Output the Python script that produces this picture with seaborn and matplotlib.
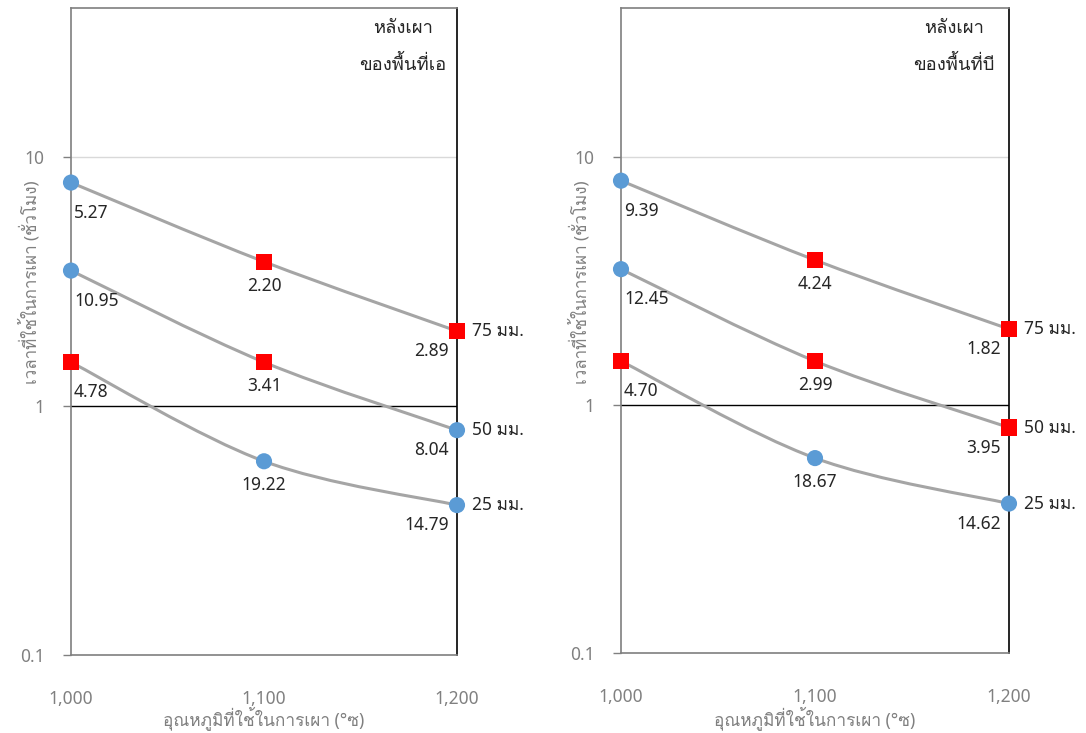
import numpy as np
import pandas as pd
import matplotlib
matplotlib.use("Agg")
import matplotlib.pyplot as plt
from matplotlib import font_manager, ft2font
from matplotlib.path import Path
from matplotlib.patches import PathPatch
import seaborn as sns

# ---- data -------------------------------------------------------------
temps = [1000, 1100, 1200]
temp_ticks = ["1,000", "1,100", "1,200"]
series_names = ["75 มม.", "50 มม.", "25 มม."]

# hours (plotted on log axis)
hours_a_75 = [7.9, 3.8, 2.0]
hours_a_50 = [3.5, 1.5, 0.8]
hours_a_25 = [1.5, 0.6, 0.4]
hours_b_75 = [8.0, 3.83, 2.02]
hours_b_50 = [3.52, 1.5, 0.81]
hours_b_25 = [1.5, 0.61, 0.4]

# values printed next to each point
labels_a_75 = ["5.27", "2.20", "2.89"]
labels_a_50 = ["10.95", "3.41", "8.04"]
labels_a_25 = ["4.78", "19.22", "14.79"]
labels_b_75 = ["9.39", "4.24", "1.82"]
labels_b_50 = ["12.45", "2.99", "3.95"]
labels_b_25 = ["4.70", "18.67", "14.62"]

# marker class per point: c = circle, s = square
kind_a_75 = ["c", "s", "s"]
kind_a_50 = ["c", "s", "c"]
kind_a_25 = ["s", "c", "c"]
kind_b_75 = ["c", "s", "s"]
kind_b_50 = ["c", "s", "s"]
kind_b_25 = ["s", "c", "c"]

titles = ["หลังเผา\nของพื้นที่เอ", "หลังเผา\nของพื้นที่บี"]
y_ticks = [0.1, 1, 10]
y_ticklabels = ["0.1", "1", "10"]
x_label = "อุณหภูมิที่ใช้ในการเผา (°ซ)"
y_label = "เวลาที่ใช้ในการเผา (ชั่วโมง)"

panels = [
    dict(hours=[hours_a_75, hours_a_50, hours_a_25],
         labels=[labels_a_75, labels_a_50, labels_a_25],
         kinds=[kind_a_75, kind_a_50, kind_a_25]),
    dict(hours=[hours_b_75, hours_b_50, hours_b_25],
         labels=[labels_b_75, labels_b_50, labels_b_25],
         kinds=[kind_b_75, kind_b_50, kind_b_25]),
]

# ---- style ------------------------------------------------------------
sns.set_theme(style="white")


def find_thai_family():
    for f in font_manager.fontManager.ttflist:
        try:
            cmap = ft2font.FT2Font(f.fname).get_charmap()
        except Exception:
            continue
        if 0x0E01 in cmap and 0x0E40 in cmap and 0x0E21 in cmap:
            return f.name
    return None


thai = find_thai_family()
families = ["Noto Sans"] + ([thai] if thai else []) + ["DejaVu Sans"]
plt.rcParams["font.family"] = families

BLUE = "#5B9BD5"
RED = "#FF0000"
LINE = "#A5A5A5"
TICK_GRAY = "#808080"
TEXT = "#262626"
FS = 12.5


def smooth_path(xs, ys):
    """Cubic Bezier through the points, built in (x, log10 y) space."""
    px = np.asarray(xs, float)
    py = np.log10(np.asarray(ys, float))
    n = len(px)
    verts = [(px[0], py[0])]
    codes = [Path.MOVETO]
    for i in range(n - 1):
        p_prev = (px[max(i - 1, 0)], py[max(i - 1, 0)])
        p0 = (px[i], py[i])
        p1 = (px[i + 1], py[i + 1])
        p_next = (px[min(i + 2, n - 1)], py[min(i + 2, n - 1)])
        c1 = (p0[0] + (p1[0] - p_prev[0]) / 6, p0[1] + (p1[1] - p_prev[1]) / 6)
        c2 = (p1[0] - (p_next[0] - p0[0]) / 6, p1[1] - (p_next[1] - p0[1]) / 6)
        verts += [c1, c2, p1]
        codes += [Path.CURVE4] * 3
    verts = [(vx, 10 ** vy) for vx, vy in verts]
    return Path(verts, codes)


W, H = 1086, 733
fig = plt.figure(figsize=(W / 100, H / 100), dpi=100)
fig.patch.set_facecolor("white")

boxes = [(71, 8, 457, 655), (621, 8, 1009, 653)]

for p, (l, t, r, b), title in zip(panels, boxes, titles):
    ax = fig.add_axes([l / W, 1 - b / H, (r - l) / W, (b - t) / H])
    ax.set_yscale("log")
    ax.set_xlim(1000, 1200)
    ax.set_ylim(0.1, 39.7)

    # reference lines
    ax.axhline(10, color="#D9D9D9", lw=1, zorder=1)
    ax.axhline(1, color="#000000", lw=1, zorder=1)

    rows = []
    for name, hrs, labs, kinds in zip(series_names, p["hours"], p["labels"], p["kinds"]):
        ax.add_patch(PathPatch(smooth_path(temps, hrs), facecolor="none",
                               edgecolor=LINE, lw=2.2, zorder=2))
        for x, y, k in zip(temps, hrs, kinds):
            rows.append(dict(temp=x, hours=y, kind=k))

        # value labels
        offs = [((3, -30), "left"), ((0, -24), "center"), ((-8, -20), "right")]
        for (x, y, lab), (off, ha) in zip(zip(temps, hrs, labs), offs):
            ax.annotate(lab, (x, y), xytext=(off[0] * 0.72, off[1] * 0.72),
                        textcoords="offset points", ha=ha, va="center",
                        fontsize=FS, color=TEXT, zorder=5, annotation_clip=False)
        # series name at line end
        ax.annotate(name, (temps[-1], hrs[-1]), xytext=(11, 0),
                    textcoords="offset points", ha="left", va="center",
                    fontsize=FS, color=TEXT, annotation_clip=False)

    df = pd.DataFrame(rows)
    sns.scatterplot(data=df, x="temp", y="hours", hue="kind", style="kind",
                    markers={"c": "o", "s": "s"},
                    palette={"c": BLUE, "s": RED},
                    s=135, linewidth=0, legend=False, zorder=4, ax=ax,
                    clip_on=False)

    # axes styling
    ax.set_xticks(temps)
    ax.set_xticklabels(temp_ticks)
    ax.set_yticks(y_ticks)
    ax.set_yticklabels(y_ticklabels)
    ax.minorticks_off()
    ax.yaxis.set_minor_locator(matplotlib.ticker.NullLocator())
    ax.tick_params(axis="y", which="major", left=True, length=6, width=1,
                   color=TICK_GRAY, pad=13, labelsize=FS, labelcolor=TICK_GRAY)
    ax.tick_params(axis="x", which="major", bottom=False, pad=19,
                   labelsize=FS, labelcolor=TICK_GRAY)
    ax.set_xlabel("")
    ax.set_ylabel("")
    for side in ("left", "bottom", "top"):
        ax.spines[side].set_color("#7F7F7F")
        ax.spines[side].set_linewidth(1.2)
    ax.spines["right"].set_color("#000000")
    ax.spines["right"].set_linewidth(1.2)
    ax.grid(False)

    # panel title
    cx = ((l + r) / 2 + 403 - 264) / W
    fig.text(cx, 1 - 28 / H, title.split("\n")[0], ha="center", va="center",
             fontsize=13.3, color=TEXT)
    fig.text(cx, 1 - 64 / H, title.split("\n")[1], ha="center", va="center",
             fontsize=13.3, color=TEXT)

    # axis titles
    fig.text((l + r) / 2 / W, 1 - 718 / H, x_label, ha="center", va="center",
             fontsize=12.4, color=TICK_GRAY)
    fig.text((l - 41) / W, 1 - 282 / H, y_label, ha="center", va="center",
             rotation=90, fontsize=12.2, color=TICK_GRAY)

fig.savefig("out.png", dpi=100, facecolor="white")
